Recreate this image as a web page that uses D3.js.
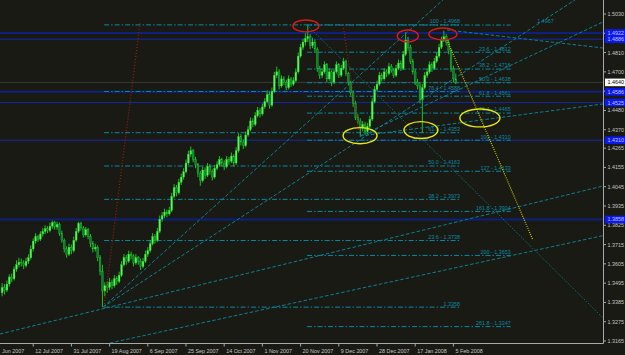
<!DOCTYPE html>
<html>
<head>
<meta charset="utf-8">
<script src="https://cdn.jsdelivr.net/npm/d3@7"></script>
<style>
  html, body { margin: 0; padding: 0; background: #1a1a14; }
  svg { display: block; }
  text { font-family: "Liberation Sans", Arial, sans-serif; }
</style>
</head>
<body>
<svg id="chart" width="625" height="355"></svg>
<script>
// ----------------------------------------------------------------------------
// Data (daily bars, index 0 = first visible bar)
// ----------------------------------------------------------------------------

// [open, high, low, close]
const bars = [
  [1.3440,1.3495,1.3420,1.3470],[1.3470,1.3490,1.3430,1.3455],[1.3455,1.3510,1.3445,1.3490],
  [1.3490,1.3545,1.3475,1.3530],[1.3530,1.3550,1.3500,1.3520],[1.3520,1.3590,1.3510,1.3575],
  [1.3575,1.3625,1.3560,1.3600],[1.3600,1.3640,1.3585,1.3615],[1.3615,1.3635,1.3590,1.3610],
  [1.3610,1.3625,1.3575,1.3595],[1.3595,1.3640,1.3585,1.3620],[1.3620,1.3660,1.3605,1.3640],
  [1.3640,1.3710,1.3630,1.3690],[1.3690,1.3750,1.3675,1.3735],[1.3735,1.3780,1.3720,1.3760],
  [1.3760,1.3770,1.3730,1.3745],[1.3745,1.3790,1.3735,1.3775],[1.3775,1.3810,1.3760,1.3790],
  [1.3790,1.3825,1.3775,1.3805],[1.3805,1.3820,1.3780,1.3795],[1.3795,1.3840,1.3785,1.3820],
  [1.3820,1.3852,1.3805,1.3840],[1.3840,1.3850,1.3800,1.3815],[1.3815,1.3845,1.3800,1.3830],
  [1.3830,1.3840,1.3765,1.3780],[1.3780,1.3795,1.3725,1.3740],[1.3740,1.3750,1.3670,1.3690],
  [1.3690,1.3705,1.3640,1.3660],[1.3660,1.3720,1.3650,1.3700],[1.3700,1.3715,1.3660,1.3680],
  [1.3680,1.3760,1.3670,1.3740],[1.3740,1.3810,1.3730,1.3790],[1.3790,1.3845,1.3780,1.3835],
  [1.3835,1.3845,1.3795,1.3810],[1.3810,1.3820,1.3755,1.3770],[1.3770,1.3815,1.3760,1.3800],
  [1.3800,1.3810,1.3745,1.3760],[1.3760,1.3775,1.3700,1.3720],[1.3720,1.3735,1.3670,1.3690],
  [1.3690,1.3720,1.3675,1.3700],[1.3700,1.3710,1.3620,1.3640],[1.3640,1.3655,1.3540,1.3560],
  [1.3560,1.3600,1.3358,1.3450],[1.3450,1.3500,1.3420,1.3480],[1.3480,1.3505,1.3440,1.3470],
  [1.3470,1.3525,1.3455,1.3500],[1.3500,1.3515,1.3460,1.3480],[1.3480,1.3540,1.3470,1.3520],
  [1.3520,1.3535,1.3485,1.3505],[1.3505,1.3560,1.3495,1.3540],[1.3540,1.3620,1.3530,1.3600],
  [1.3600,1.3660,1.3590,1.3640],[1.3640,1.3655,1.3600,1.3620],[1.3620,1.3680,1.3610,1.3660],
  [1.3660,1.3675,1.3630,1.3650],[1.3650,1.3660,1.3590,1.3610],[1.3610,1.3660,1.3600,1.3640],
  [1.3640,1.3650,1.3600,1.3620],[1.3620,1.3635,1.3570,1.3590],[1.3590,1.3640,1.3580,1.3620],
  [1.3620,1.3680,1.3610,1.3660],[1.3660,1.3700,1.3645,1.3680],[1.3680,1.3740,1.3670,1.3720],
  [1.3720,1.3780,1.3710,1.3760],[1.3760,1.3775,1.3720,1.3740],[1.3740,1.3810,1.3730,1.3790],
  [1.3790,1.3880,1.3780,1.3860],[1.3860,1.3900,1.3845,1.3880],[1.3880,1.3920,1.3865,1.3900],
  [1.3900,1.3915,1.3870,1.3890],[1.3890,1.3930,1.3880,1.3910],[1.3910,1.4010,1.3900,1.3990],
  [1.3990,1.4060,1.3980,1.4040],[1.4040,1.4055,1.3990,1.4010],[1.4010,1.4090,1.4000,1.4070],
  [1.4070,1.4120,1.4055,1.4100],[1.4100,1.4150,1.4085,1.4130],[1.4130,1.4200,1.4120,1.4180],
  [1.4180,1.4250,1.4170,1.4230],[1.4230,1.4275,1.4215,1.4250],[1.4250,1.4260,1.4185,1.4200],
  [1.4200,1.4215,1.4150,1.4170],[1.4170,1.4180,1.4100,1.4120],[1.4120,1.4135,1.4050,1.4080],
  [1.4080,1.4160,1.4070,1.4140],[1.4140,1.4155,1.4090,1.4110],[1.4110,1.4180,1.4100,1.4160],
  [1.4160,1.4175,1.4115,1.4130],[1.4130,1.4145,1.4080,1.4100],[1.4100,1.4170,1.4090,1.4150],
  [1.4150,1.4190,1.4140,1.4170],[1.4170,1.4220,1.4160,1.4200],[1.4200,1.4210,1.4160,1.4180],
  [1.4180,1.4195,1.4140,1.4160],[1.4160,1.4220,1.4150,1.4200],[1.4200,1.4215,1.4170,1.4190],
  [1.4190,1.4240,1.4180,1.4220],[1.4220,1.4230,1.4160,1.4180],[1.4180,1.4270,1.4170,1.4250],
  [1.4250,1.4350,1.4240,1.4330],[1.4330,1.4345,1.4280,1.4300],[1.4300,1.4315,1.4260,1.4280],
  [1.4280,1.4360,1.4270,1.4340],[1.4340,1.4390,1.4330,1.4370],[1.4370,1.4440,1.4360,1.4420],
  [1.4420,1.4435,1.4385,1.4400],[1.4400,1.4470,1.4390,1.4450],[1.4450,1.4500,1.4440,1.4480],
  [1.4480,1.4495,1.4440,1.4460],[1.4460,1.4520,1.4450,1.4500],[1.4500,1.4550,1.4490,1.4530],
  [1.4530,1.4595,1.4520,1.4570],[1.4570,1.4585,1.4490,1.4510],[1.4510,1.4610,1.4500,1.4590],
  [1.4590,1.4700,1.4580,1.4680],[1.4680,1.4730,1.4665,1.4700],[1.4700,1.4715,1.4600,1.4620],
  [1.4620,1.4680,1.4610,1.4660],[1.4660,1.4675,1.4625,1.4640],[1.4640,1.4655,1.4595,1.4610],
  [1.4610,1.4680,1.4600,1.4660],[1.4660,1.4670,1.4615,1.4630],[1.4630,1.4670,1.4620,1.4650],
  [1.4650,1.4720,1.4640,1.4700],[1.4700,1.4810,1.4690,1.4790],[1.4790,1.4860,1.4780,1.4840],
  [1.4840,1.4890,1.4825,1.4870],[1.4870,1.4920,1.4850,1.4890],[1.4890,1.4968,1.4870,1.4900],
  [1.4900,1.4915,1.4830,1.4850],[1.4850,1.4895,1.4835,1.4870],[1.4870,1.4885,1.4810,1.4830],
  [1.4830,1.4840,1.4700,1.4720],[1.4720,1.4735,1.4660,1.4680],[1.4680,1.4720,1.4665,1.4700],
  [1.4700,1.4760,1.4690,1.4740],[1.4740,1.4750,1.4640,1.4660],[1.4660,1.4720,1.4650,1.4700],
  [1.4700,1.4710,1.4620,1.4640],[1.4640,1.4720,1.4630,1.4700],[1.4700,1.4760,1.4690,1.4740],
  [1.4740,1.4750,1.4665,1.4680],[1.4680,1.4740,1.4670,1.4720],[1.4720,1.4780,1.4710,1.4760],
  [1.4760,1.4770,1.4675,1.4690],[1.4690,1.4700,1.4625,1.4640],[1.4640,1.4650,1.4565,1.4580],
  [1.4580,1.4595,1.4500,1.4520],[1.4520,1.4535,1.4425,1.4440],[1.4440,1.4460,1.4400,1.4420],
  [1.4420,1.4435,1.4330,1.4380],[1.4380,1.4420,1.4360,1.4400],[1.4400,1.4415,1.4340,1.4360],
  [1.4360,1.4410,1.4345,1.4390],[1.4390,1.4450,1.4380,1.4430],[1.4430,1.4550,1.4420,1.4530],
  [1.4530,1.4620,1.4520,1.4600],[1.4600,1.4650,1.4590,1.4630],[1.4630,1.4700,1.4620,1.4680],
  [1.4680,1.4695,1.4645,1.4660],[1.4660,1.4720,1.4650,1.4700],[1.4700,1.4715,1.4670,1.4690],
  [1.4690,1.4750,1.4680,1.4730],[1.4730,1.4745,1.4695,1.4710],[1.4710,1.4720,1.4665,1.4680],
  [1.4680,1.4740,1.4670,1.4720],[1.4720,1.4770,1.4710,1.4750],[1.4750,1.4765,1.4705,1.4720],
  [1.4720,1.4820,1.4710,1.4800],[1.4800,1.4925,1.4790,1.4880],[1.4880,1.4900,1.4820,1.4840],
  [1.4840,1.4855,1.4745,1.4760],[1.4760,1.4775,1.4685,1.4700],[1.4700,1.4715,1.4625,1.4640],
  [1.4640,1.4660,1.4600,1.4620],[1.4620,1.4640,1.4520,1.4540],[1.4540,1.4630,1.4355,1.4610],
  [1.4610,1.4700,1.4600,1.4680],[1.4680,1.4720,1.4665,1.4700],[1.4700,1.4760,1.4690,1.4740],
  [1.4740,1.4755,1.4700,1.4720],[1.4720,1.4780,1.4710,1.4760],[1.4760,1.4810,1.4750,1.4790],
  [1.4790,1.4860,1.4780,1.4840],[1.4840,1.4900,1.4830,1.4880],[1.4880,1.4935,1.4870,1.4900],
  [1.4900,1.4915,1.4850,1.4870],[1.4870,1.4885,1.4800,1.4820],[1.4820,1.4830,1.4700,1.4720],
  [1.4720,1.4735,1.4640,1.4660],[1.4660,1.4690,1.4630,1.4640],
];

// date axis: bar index of each label (the first one starts off screen)
const dateTickIndex = [-3, 13, 29, 45, 61, 77, 93, 109, 125, 141, 157, 173, 189];
const dateTickLabels = ['Jun 2007', '12 Jul 2007', '31 Jul 2007', '19 Aug 2007', '6 Sep 2007',
  '25 Sep 2007', '14 Oct 2007', '1 Nov 2007', '20 Nov 2007', '9 Dec 2007', '28 Dec 2007',
  '17 Jan 2008', '5 Feb 2008'];

// price axis
const priceTicks = [1.5030, 1.4920, 1.4810, 1.4700, 1.4590, 1.4480, 1.4370, 1.4265, 1.4155,
  1.4045, 1.3935, 1.3825, 1.3715, 1.3605, 1.3495, 1.3385, 1.3275, 1.3165];
const bidPrice = 1.4640;

// horizontal lines drawn on the chart
const hLineLevels = [1.4922, 1.4886, 1.4586, 1.4525, 1.4310, 1.3858];

// fibo drawn from the August low to the November high
const fibBLevels = ['100', '76.4', '61.8', '50.0', '38.2', '23.6', '0'];
const fibBPrices = [1.4968, 1.4588, 1.4353, 1.4163, 1.3973, 1.3738, 1.3358];
const fibBSpan = [42.7, 191.8];

// fibo drawn from the November high to the December low, with extensions
const fibALevels = ['0', '23.6', '38.2', '50.0', '61.8', '76.4', '100', '127', '161.8', '200', '261.8'];
const fibAPrices = [1.4967, 1.4812, 1.4716, 1.4638, 1.4561, 1.4465, 1.4310, 1.4133, 1.3904, 1.3653, 1.3247];
const fibASpan = [127.7, 213];

// trend lines [bar1, price1, bar2, price2]
const trendLines = [
  [-0.9, 1.3205, 251.7, 1.4049],
  [45.2, 1.3154, 251.7, 1.3766],
  [42.3, 1.3359, 184.6, 1.5110],
  [42.3, 1.3359, 239.9, 1.5110],
  [149.9, 1.4334, 251.7, 1.4517],
  [149.9, 1.4334, 251.7, 1.4985],
  [186.3, 1.4939, 251.7, 1.4836],
];
const dottedLines = [[127.7, 1.4967, 251.7, 1.3296]];
const redLines = [[42.7, 1.3359, 57.8, 1.4984], [142.8, 1.4967, 149.5, 1.4357]];
const yellowLines = [[186.3, 1.4882, 222.3, 1.3741]];

// ellipses [bar, price, half width in bars, half height in price]
const redEllipses = [[127.2, 1.4962, 5.4, 0.0034], [169.9, 1.4905, 4.4, 0.0034], [184.6, 1.4916, 5.9, 0.0034]];
const yellowEllipses = [[149.9, 1.4336, 7.1, 0.0046], [175.4, 1.4368, 7.1, 0.0048], [200.1, 1.4437, 8.4, 0.0051]];

// ----------------------------------------------------------------------------
// Layout
// ----------------------------------------------------------------------------

const plotW = 603;
const plotH = 343;
const axisColor = '#a8a8a8';
const labelColor = '#c4c4c4';
const fibColor = '#0a88a2';
const fontSize = 5.4;

const svg = d3.select('#chart');
const x = d3.scaleLinear().domain([13, 189]).range([33.2, 453.4]);
const y = d3.scaleLinear().domain([1.3165, 1.5030]).range([341, 14]);

svg.append('rect').attr('width', 625).attr('height', 355).attr('fill', '#1a1a14');

svg.append('defs').append('clipPath').attr('id', 'plot')
  .append('rect').attr('width', plotW).attr('height', plotH);

const plot = svg.append('g').attr('clip-path', 'url(#plot)');

// horizontal blue lines (thick ones are the major levels)
const thick = new Set([0, 2, 5]);
plot.append('g').selectAll('line').data(hLineLevels).join('line')
  .attr('x1', 0).attr('x2', plotW)
  .attr('y1', d => y(d)).attr('y2', d => y(d))
  .attr('stroke', (d, i) => (thick.has(i) ? '#0d2080' : '#1428a8'))
  .attr('stroke-width', (d, i) => (thick.has(i) ? 2 : 1));

// bid line
plot.append('line')
  .attr('x1', 0).attr('x2', plotW)
  .attr('y1', y(bidPrice)).attr('y2', y(bidPrice))
  .attr('stroke', '#3a3a3a').attr('stroke-width', 1);

// fibo levels
function drawFibo(levels, prices, span, labelAt) {
  const g = plot.append('g');
  g.selectAll('line').data(prices).join('line')
    .attr('x1', x(span[0])).attr('x2', x(span[1]))
    .attr('y1', d => y(d)).attr('y2', d => y(d))
    .attr('stroke', fibColor).attr('stroke-width', 1)
    .attr('stroke-dasharray', '5,2,1.5,2');
  g.selectAll('text').data(prices).join('text')
    .attr('x', (d, i) => x(labelAt(i)))
    .attr('y', d => y(d) - 1.6)
    .attr('text-anchor', 'end')
    .attr('font-size', fontSize)
    .attr('fill', fibColor)
    .text((d, i) => (levels[i] === '0' ? d.toFixed(4) : `${levels[i]} - ${d.toFixed(4)}`));
}
drawFibo(fibBLevels, fibBPrices, fibBSpan, () => fibBSpan[1]);
drawFibo(fibALevels, fibAPrices, fibASpan, i => (i === 0 ? 231 : fibASpan[1]));

// candles
const bodyW = 1.8;
const candles = plot.append('g').selectAll('g').data(bars).join('g');
candles.append('line')
  .attr('x1', (d, i) => x(i)).attr('x2', (d, i) => x(i))
  .attr('y1', d => y(d[1])).attr('y2', d => y(d[2]))
  .attr('stroke', '#1fd41f').attr('stroke-width', 0.9);
candles.append('rect')
  .attr('x', (d, i) => x(i) - bodyW / 2)
  .attr('width', bodyW)
  .attr('y', d => y(Math.max(d[0], d[3])))
  .attr('height', d => Math.max(0.8, Math.abs(y(d[0]) - y(d[3]))))
  .attr('fill', d => (d[3] >= d[0] ? '#5cf55c' : '#0f7a3c'))
  .attr('stroke', '#22dd22').attr('stroke-width', 0.3);

// trend lines
function drawLines(data, color, dash, width) {
  plot.append('g').selectAll('line').data(data).join('line')
    .attr('x1', d => x(d[0])).attr('y1', d => y(d[1]))
    .attr('x2', d => x(d[2])).attr('y2', d => y(d[3]))
    .attr('stroke', color).attr('stroke-width', width)
    .attr('stroke-dasharray', dash);
}
drawLines(trendLines, '#0a7f96', '3.5,2', 1);
drawLines(dottedLines, '#0a7f96', '1,1.6', 1);
drawLines(redLines, '#a01818', '1,2', 1.2);
drawLines(yellowLines, '#c8c800', '1,1.2', 1.2);

// ellipses
function drawEllipses(data, color) {
  plot.append('g').selectAll('ellipse').data(data).join('ellipse')
    .attr('cx', d => x(d[0])).attr('cy', d => y(d[1]))
    .attr('rx', d => x(d[0] + d[2]) - x(d[0]))
    .attr('ry', d => y(d[1] - d[3]) - y(d[1]))
    .attr('fill', 'none').attr('stroke', color).attr('stroke-width', 1.4);
}
drawEllipses(redEllipses, '#dc1a1a');
drawEllipses(yellowEllipses, '#e8e80a');

// ----------------------------------------------------------------------------
// Axes
// ----------------------------------------------------------------------------

svg.append('line').attr('x1', plotW + 0.5).attr('x2', plotW + 0.5)
  .attr('y1', 0).attr('y2', plotH + 0.5).attr('stroke', axisColor);
svg.append('line').attr('x1', 0).attr('x2', plotW + 0.5)
  .attr('y1', plotH + 0.5).attr('y2', plotH + 0.5).attr('stroke', axisColor);

const yAxis = svg.append('g');
yAxis.selectAll('line').data(priceTicks).join('line')
  .attr('x1', plotW + 0.5).attr('x2', plotW + 3)
  .attr('y1', d => y(d)).attr('y2', d => y(d))
  .attr('stroke', axisColor);
yAxis.selectAll('text').data(priceTicks).join('text')
  .attr('x', plotW + 4.5).attr('y', d => y(d) + 2)
  .attr('font-size', fontSize).attr('fill', labelColor)
  .text(d => d.toFixed(4));

// level boxes on the price axis
function priceBox(value, fill, color) {
  const g = svg.append('g');
  g.append('rect').attr('x', plotW + 2).attr('y', y(value) - 3.8)
    .attr('width', 22).attr('height', 7.6).attr('fill', fill);
  g.append('text').attr('x', plotW + 4.5).attr('y', y(value) + 2)
    .attr('font-size', fontSize).attr('fill', color)
    .text(value.toFixed(4));
}
hLineLevels.forEach(v => priceBox(v, '#0c18f0', '#c0c8ff'));
priceBox(bidPrice, '#ffffff', '#000000');

const xAxis = svg.append('g');
xAxis.selectAll('line').data(dateTickIndex).join('line')
  .attr('x1', d => x(d)).attr('x2', d => x(d))
  .attr('y1', plotH + 0.5).attr('y2', plotH + 3.5)
  .attr('stroke', axisColor);
xAxis.selectAll('text').data(dateTickIndex).join('text')
  .attr('x', d => Math.max(x(d) + 2, 2)).attr('y', plotH + 9.5)
  .attr('font-size', fontSize).attr('fill', labelColor)
  .text((d, i) => dateTickLabels[i]);
</script>
</body>
</html>
